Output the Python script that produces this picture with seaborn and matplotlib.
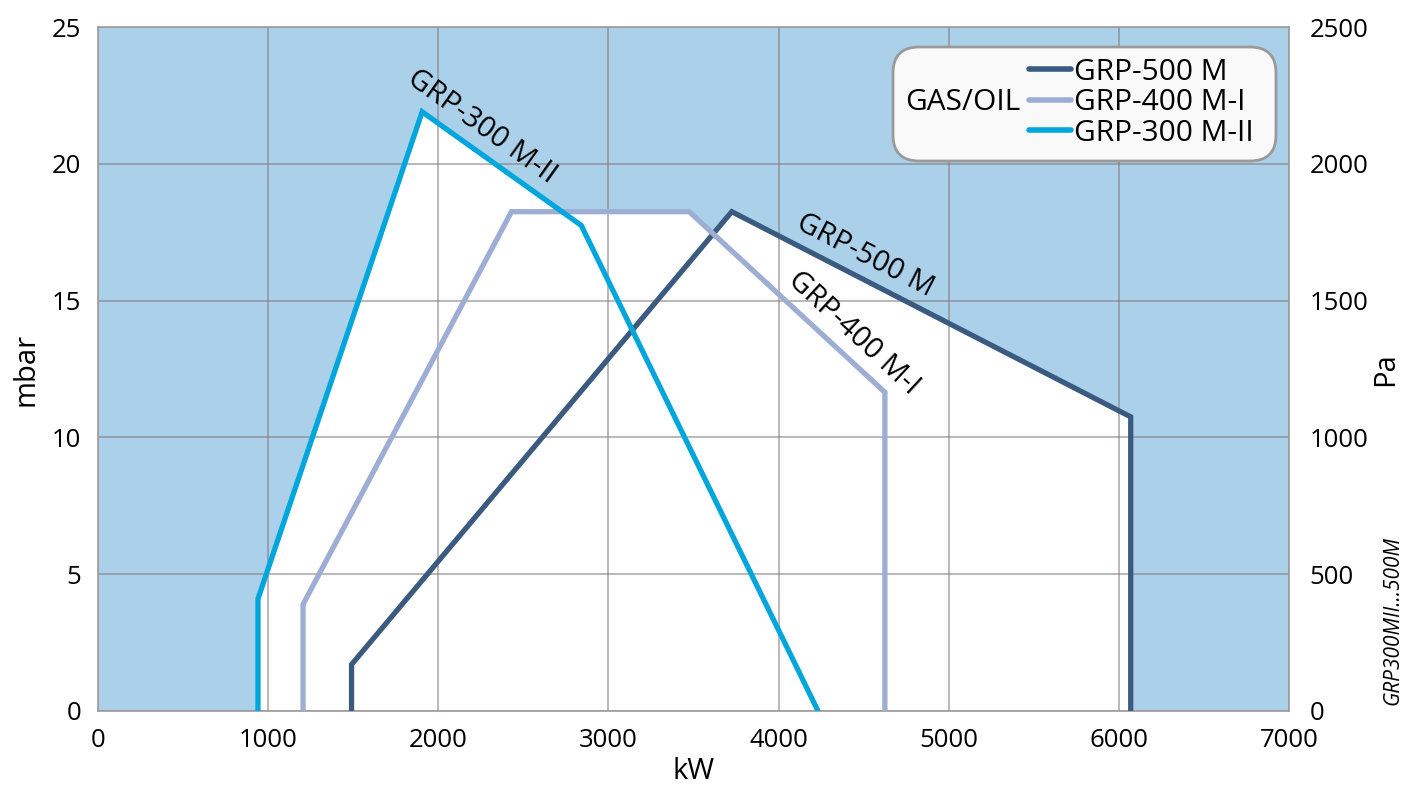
import numpy as np
import pandas as pd
import matplotlib
matplotlib.use("Agg")
import matplotlib.pyplot as plt
import seaborn as sns
from matplotlib.patches import FancyBboxPatch
from matplotlib.transforms import IdentityTransform

# working-field curves (kW vs mbar)
grp500_kw = [1490, 1490, 3725, 6070, 6070]
grp500_mbar = [0, 1.7, 18.25, 10.75, 0]
grp400_kw = [1205, 1205, 2430, 3475, 4625, 4625]
grp400_mbar = [0, 3.9, 18.25, 18.25, 11.65, 0]
grp300_kw = [940, 940, 1905, 2840, 4232]
grp300_mbar = [0, 4.1, 21.9, 17.75, 0]

models = ["GRP-500 M", "GRP-400 M-I", "GRP-300 M-II"]
colors = ["#3b5a80", "#9eadd4", "#00a6dc"]
x_ticks = list(range(0, 7001, 1000))
mbar_ticks = list(range(0, 26, 5))
pa_ticks = list(range(0, 2501, 500))

plt.rcParams["font.family"] = ["Open Sans", "DejaVu Sans"]

df = pd.concat([
    pd.DataFrame({"model": models[0], "kW": grp500_kw, "mbar": grp500_mbar}),
    pd.DataFrame({"model": models[1], "kW": grp400_kw, "mbar": grp400_mbar}),
    pd.DataFrame({"model": models[2], "kW": grp300_kw, "mbar": grp300_mbar}),
], ignore_index=True)

fig = plt.figure(figsize=(14.03, 7.9), dpi=100)
ax = fig.add_axes([0.0699, 0.1, 0.8488, 0.8658])
ax.set_facecolor("#abd1ea")

# white fill for the operating areas
for m in models:
    sub = df[df["model"] == m]
    ax.fill(sub["kW"], sub["mbar"], color="white", lw=0, zorder=0.2)

sns.lineplot(data=df, x="kW", y="mbar", hue="model", hue_order=models,
             palette=colors, sort=False, estimator=None, lw=3.8,
             legend=False, ax=ax, solid_capstyle="round",
             solid_joinstyle="miter", zorder=3)

ax.set_xlim(0, 7000)
ax.set_ylim(0, 25)
ax.set_xticks(x_ticks)
ax.set_yticks(mbar_ticks)
ax.set_axisbelow(True)
ax.grid(True, color="#7f7575", alpha=0.65, lw=1.1)
ax.tick_params(length=0, labelsize=18.5)
ax.tick_params(axis="x", pad=12)
ax.tick_params(axis="y", pad=12)
ax.set_xlabel("kW", fontsize=21, labelpad=3)
ax.set_ylabel("mbar", fontsize=21, labelpad=8)
for s in ax.spines.values():
    s.set_color("#a09a9a")
    s.set_linewidth(1.2)

ax2 = ax.twinx()
ax2.set_ylim(0, 2500)
ax2.set_yticks(pa_ticks)
ax2.tick_params(length=0, labelsize=18.5, pad=15)
ax2.set_ylabel("Pa", fontsize=21, labelpad=2)
for s in ax2.spines.values():
    s.set_visible(False)

# labels along the falling edges
def edge_label(xs, ys, i, xpos, text):
    x0, y0 = ax.transData.transform((xs[i], ys[i]))
    x1, y1 = ax.transData.transform((xs[i + 1], ys[i + 1]))
    ang = np.degrees(np.arctan2(y1 - y0, x1 - x0))
    ypos = np.interp(xpos, [xs[i], xs[i + 1]], [ys[i], ys[i + 1]])
    t = np.radians(ang)
    d = 16
    ax.annotate(text, (xpos, ypos), xytext=(-np.sin(t) * d, np.cos(t) * d),
                textcoords="offset points", rotation=ang,
                rotation_mode="anchor", ha="center", va="center",
                fontsize=21, zorder=5)

edge_label(grp300_kw, grp300_mbar, 2, 2180, "GRP-300 M-II")
edge_label(grp500_kw, grp500_mbar, 2, 4450, "GRP-500 M")
edge_label(grp400_kw, grp400_mbar, 3, 4350, "GRP-400 M-I")

# legend box
box = FancyBboxPatch((893, 790 - 161), 383, 114,
                     boxstyle="round,pad=0,rounding_size=26",
                     transform=IdentityTransform(), facecolor="#f9f9f9",
                     edgecolor="#9a9a9a", lw=2, zorder=6, clip_on=False)
ax2.add_artist(box)
leg = ax2.legend(ax.lines[:3], models, loc="center left",
                 bbox_to_anchor=(0.7817, 0.889), frameon=False,
                 fontsize=21.5, handlelength=1.4, handletextpad=0.1,
                 labelspacing=0.05, borderpad=0, borderaxespad=0)
leg.set_zorder(7)
for h in leg.get_lines():
    h.set_linewidth(4)
ax2.text(0.7263, 0.889, "GAS/OIL", transform=ax2.transAxes, fontsize=21.5,
         ha="center", va="center", zorder=8)

fig.text(0.993, 0.215, "GRP300MII...500M", rotation=90, style="italic",
         fontsize=15, ha="center", va="center")

fig.savefig("out.png", dpi=100)
